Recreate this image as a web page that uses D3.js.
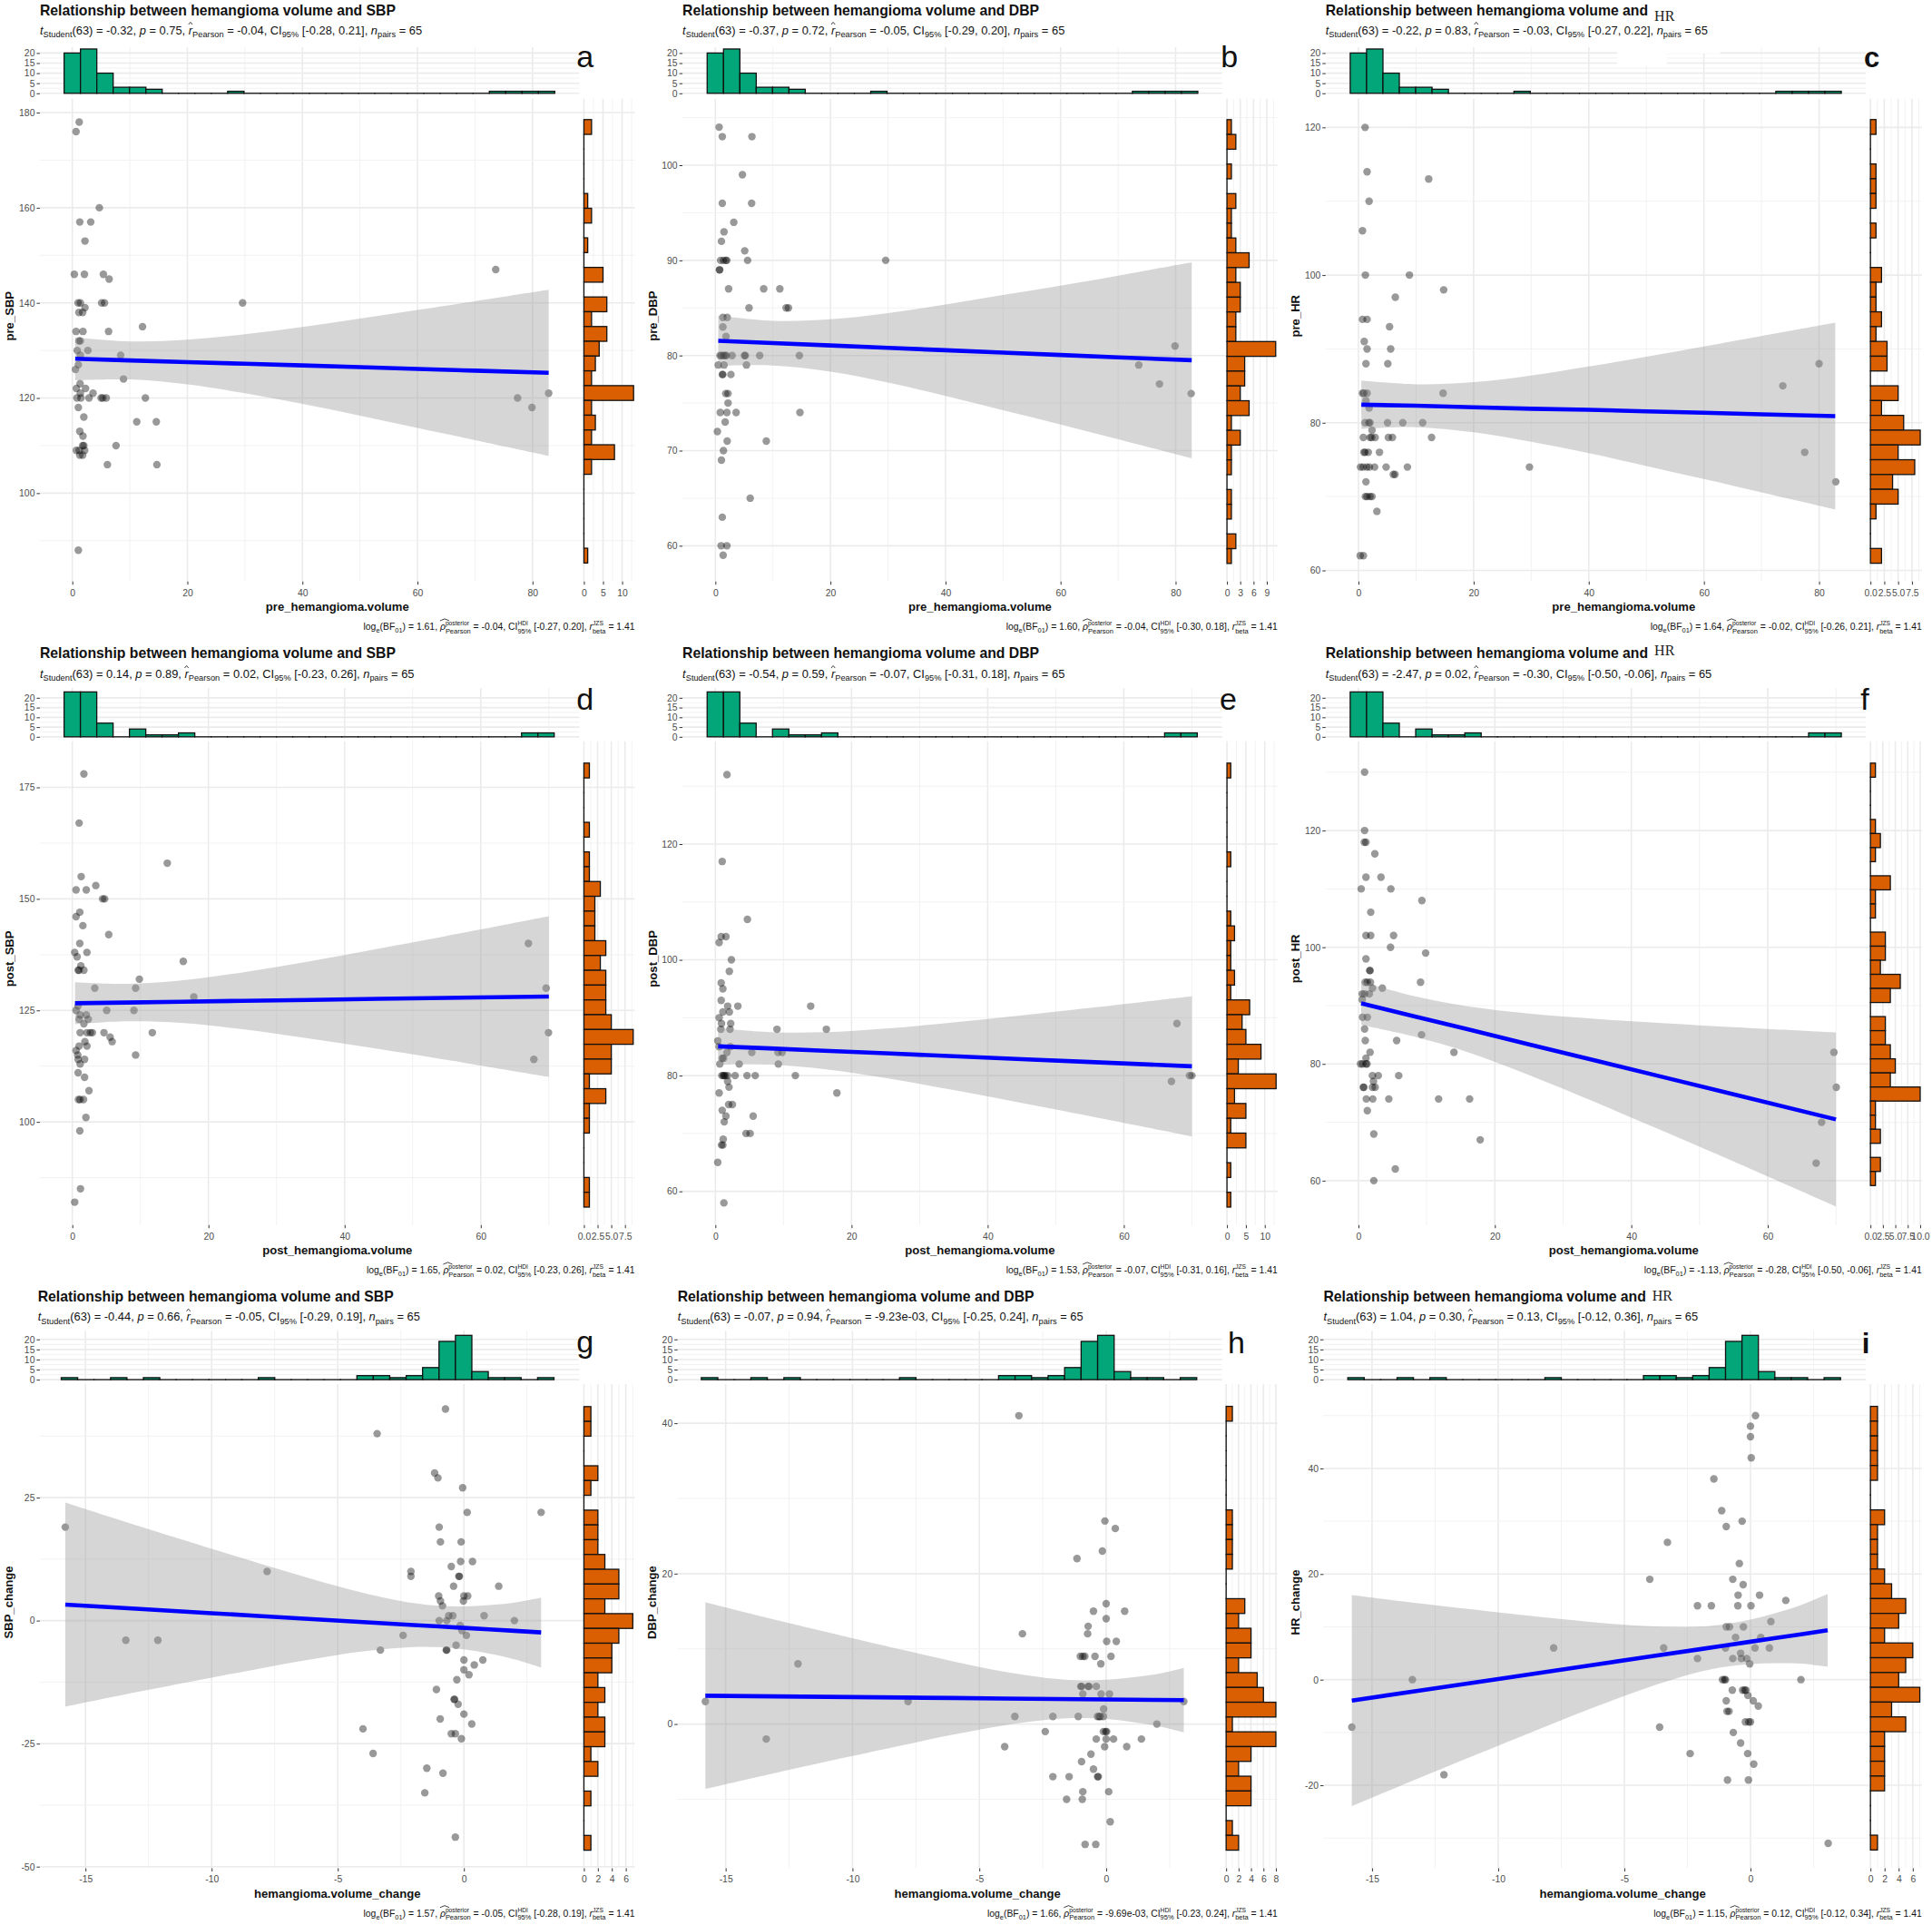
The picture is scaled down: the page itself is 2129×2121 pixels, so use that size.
<!DOCTYPE html>
<html>
<head>
<meta charset="utf-8">
<script src="https://cdn.jsdelivr.net/npm/d3@7"></script>
<style>
  html, body { margin: 0; padding: 0; background: #fff; }
  svg { display: block; font-family: "Liberation Sans", Arial, sans-serif; }
  .math text { white-space: pre; }
</style>
</head>
<body>
<svg id="chart" width="2129" height="2121"></svg>
<script>
// scatter values, [x, y]
const pointsA = [[1.2,178],[0.65,176],[4.7,160],[1.3,157],[3.2,157],[2.2,153],[0.35,146],[2.1,146],[5.4,146],[6.4,145],[73.6,147],[1,140],[1.4,140],[5.1,140],[5.6,140],[29.6,140],[2.2,139],[1.15,138],[1.8,138],[0.65,134],[1.85,134],[6.3,134],[12.2,135],[1.15,132],[1.4,132],[0.85,130],[2.7,130],[1.4,129],[8.4,129],[1.05,127],[0.55,126],[8.9,124],[1.35,123],[0.7,122],[2.3,122],[1.4,121],[3.6,121],[0.8,120],[1.5,120],[2.9,120],[5,120],[5.3,120],[5.9,120],[12.7,120],[77.4,120],[79.9,118],[82.8,121],[1.05,118],[2,116],[11.2,115],[14.6,115],[1.3,113],[1.85,112],[1.8,110],[2,110],[7.6,110],[0.7,109],[1.2,109],[2.15,109],[1.3,108],[1.8,108],[6.1,106],[14.7,106],[1.05,88]];
const pointsB = [[0.65,104],[1.2,103],[6.35,103],[4.7,99],[1.2,96],[6.3,96],[3.2,94],[1.5,93],[1.05,92],[5.1,91],[0.9,90],[1.4,90],[1.8,90],[2,90],[5.6,90],[29.6,90],[0.7,89],[0.75,89],[2.3,87],[8.4,87],[11.2,87],[5.85,85],[12.3,85],[12.7,85],[1.3,84],[2.05,84],[1.3,83],[1.85,82],[79.9,81],[0.8,80],[1.05,80],[1.4,80],[1.7,80],[1.9,80],[2.9,80],[5.05,80],[5.2,80],[7.7,80],[14.6,80],[0.5,79],[1.5,79],[5.4,79],[73.6,79],[1.2,78],[1.3,78],[2.7,78],[77.2,77],[1.8,76],[2.2,76],[82.7,76],[2.2,75],[0.85,74],[2,74],[3.6,74],[14.7,74],[1.7,73],[0.35,72],[2.05,71],[8.85,71],[1.4,70],[1.05,69],[6.05,65],[1.2,63],[1,60],[2,60],[1.35,59]];
const pointsC = [[1.15,120],[1.5,114],[12.2,113],[1.85,110],[0.7,106],[1.2,100],[8.85,100],[14.8,98],[6.4,97],[0.7,94],[1.5,94],[5.4,93],[1,91],[1.5,90],[5.6,90],[1.3,88],[5.1,88],[80,88],[73.7,85],[0.7,84],[0.95,84],[1.5,84],[14.7,84],[1.3,83],[1.85,82],[1.15,80],[1.8,80],[2,80],[5.05,80],[7.7,80],[11.15,80],[2.35,79],[0.85,78],[2,78],[2.3,78],[2.9,78],[5.2,78],[5.9,78],[12.7,78],[0.95,76],[1.15,76],[1.7,76],[3.65,76],[77.5,76],[0.35,74],[0.8,74],[1.45,74],[1.9,74],[2.8,74],[4.8,74],[8.5,74],[29.7,74],[6.05,73],[6.35,73],[1.3,72],[82.9,72],[1.2,70],[1.5,70],[2,70],[2.35,70],[3.2,68],[0.3,62],[0.85,62]];
const pointsD = [[1.7,178],[1,167],[13.95,158],[1.3,155],[3.45,153],[0.55,152],[2.05,152],[4.45,150],[4.75,150],[1.1,147],[0.55,146],[1.55,144],[5.35,142],[1.1,140],[67,140],[0.35,138],[2.15,138],[0.7,137],[16.3,136],[1.25,135],[0.85,134],[1,134],[1.7,134],[9.85,132],[3.3,130],[9.3,130],[69.6,130],[17.85,128],[0.85,126],[0.55,125],[5.05,125],[9.05,125],[1.15,124],[2.05,124],[1,123],[2.35,123],[1.7,122],[1.15,120],[2.15,120],[2.65,120],[2.95,120],[4.65,120],[11.75,120],[69.95,120],[5.55,119],[1.85,118],[5.85,118],[1,117],[2.15,117],[0.55,116],[0.8,115],[9.3,115],[0.85,114],[1.8,114],[67.8,114],[1.15,113],[0.85,111],[1.8,110],[2.45,107],[0.9,105],[1.15,105],[1.65,105],[2,101],[1.1,98],[1.2,85],[0.35,82]];
const pointsE = [[1.7,132],[1,117],[4.7,107],[0.85,104],[1.55,104],[0.55,103],[2.35,100],[2.05,98],[0.85,96],[1.1,95],[0.85,93],[1.8,92],[3.3,92],[14,92],[1.1,91],[2.05,91],[0.55,90],[0.9,89],[2.25,89],[67.8,89],[0.8,88],[2.15,88],[9.05,88],[16.3,88],[0.35,86],[0.55,85],[2.2,85],[1.7,84],[5.35,84],[9.2,84],[9.8,84],[1,83],[1.2,83],[0.65,82],[3.5,82],[9.25,82],[0.95,80],[1.15,80],[1.3,80],[1.45,80],[1.8,80],[2.9,80],[4.65,80],[5.85,80],[11.75,80],[69.65,80],[70,80],[1.8,79],[67,79],[2,78],[0.55,77],[17.85,77],[1.95,75],[2.5,75],[1,74],[1.55,73],[5.55,73],[1.3,72],[4.5,70],[5.1,70],[1.15,69],[0.9,68],[1.1,68],[0.35,65],[1.25,58]];
const pointsF = [[0.9,130],[0.9,120],[0.85,118],[1.1,118],[2.4,116],[1.1,112],[3.3,112],[0.4,110],[4.75,110],[9.3,108],[1.8,106],[1.1,102],[1.8,102],[5.15,102],[4.7,100],[9.85,99],[1.1,98],[1.65,96],[1.7,96],[1,94],[1.3,94],[1.75,94],[9.1,94],[2.05,93],[3.5,93],[0.55,92],[0.9,92],[1.6,92],[0.55,91],[0.6,88],[1.3,88],[0.9,86],[9.25,85],[1,84],[5.6,84],[1.7,82],[14,82],[69.7,82],[1.1,81],[0.3,80],[0.6,80],[1.1,80],[1.25,80],[2.05,78],[2.9,78],[5.9,78],[2.2,77],[0.7,76],[0.8,76],[2.05,76],[2.45,76],[70.05,76],[1.15,74],[2.1,74],[4.45,74],[11.75,74],[16.3,74],[1.3,72],[67.9,70],[2.25,68],[17.85,67],[67.1,63],[5.4,62],[2.25,60]];
const pointsG = [[-0.73,43],[-3.44,38],[-1.16,30],[-1.03,29],[-0.05,27],[0.13,22],[3.06,22],[-15.8,19],[-0.98,19],[-0.93,16],[-0.11,16],[-0.13,12],[0.34,12],[-0.5,11],[-7.8,10],[-2.1,10],[-2.1,9],[-0.2,9],[-0.18,9],[-0.41,7],[1.38,7],[-1,5],[0,5],[0.15,5],[-0.93,4],[-0.02,4],[-0.85,3],[-0.6,1],[-0.44,1],[0.8,1],[-0.98,0],[-0.68,0],[2,0],[-0.15,-1],[-0.08,-2],[-2.41,-3],[0.1,-3],[-13.4,-4],[-12.13,-4],[-0.31,-5],[-3.31,-6],[-0.7,-6],[-0.68,-6],[0,-8],[0.75,-8],[0.41,-9],[0,-10],[0.2,-11],[-0.28,-12],[-1.09,-14],[-0.39,-16],[-0.37,-16],[-0.23,-17],[0,-19],[-0.94,-20],[0.31,-21],[-4,-22],[-0.5,-23],[-0.34,-23],[-0.1,-24],[-3.6,-27],[-1.47,-30],[-0.83,-31],[-1.55,-35],[-0.34,-44]];
const pointsH = [[-3.44,41],[-0.05,27],[0.36,26],[-0.15,23],[-1.15,22],[0,16],[-0.5,15],[0.73,15],[0,14],[-0.71,13],[-0.73,12],[-3.3,12],[0.02,11],[0.4,11],[-1.02,9],[-0.92,9],[-0.84,9],[-0.44,9],[0.19,9],[-12.15,8],[-0.21,8],[-1,5],[-0.97,5],[-0.71,5],[-0.68,5],[-0.39,5],[-0.92,4],[-0.2,4],[0.13,4],[-15.8,3],[-7.81,3],[3.06,3],[-0.1,2],[-3.6,1],[-2.1,1],[-1.1,1],[-0.34,1],[-0.28,1],[-0.23,1],[-0.11,1],[2,0],[-2.4,-1],[-0.11,-1],[-0.02,-1],[0.02,-1],[-13.4,-2],[-0.39,-2],[0,-2],[0.29,-2],[1.39,-2],[-4,-3],[-0.06,-3],[0.81,-3],[-0.6,-4],[-0.97,-5],[-0.5,-6],[-2.1,-7],[-1.46,-7],[-0.34,-7],[-0.31,-7],[-0.92,-9],[0.1,-9],[-1.56,-10],[-0.94,-10],[0.16,-13],[-0.83,-16],[-0.41,-16]];
const pointsI = [[0.2,50],[0,48],[0,46],[0.03,42],[-1.45,38],[-1.14,32],[-0.33,30],[-0.96,29],[-3.29,26],[-0.44,22],[-3.99,19],[-0.7,19],[-0.29,18],[-0.49,16],[0.36,16],[1.4,15],[-2.1,14],[-1.55,14],[-0.5,14],[0.02,14],[0.81,11],[-0.96,10],[-0.83,10],[-0.28,10],[-0.59,8],[0.41,8],[-7.8,6],[-3.44,6],[-0.99,6],[0.18,6],[0.75,6],[-0.39,5],[-2.1,4],[-0.7,4],[-0.36,4],[-0.15,4],[-0.03,3],[-13.4,0],[-1.11,0],[-1.03,0],[-0.99,0],[2,0],[-0.72,-2],[-0.31,-2],[-0.23,-2],[-0.18,-2],[-0.1,-3],[-0.96,-4],[0.11,-4],[0.31,-5],[-0.93,-6],[-0.85,-6],[-0.2,-8],[-0.07,-8],[0,-8],[-15.8,-9],[-3.6,-9],[-0.68,-10],[-0.39,-12],[-2.39,-14],[-0.11,-14],[0.13,-16],[-12.15,-18],[-0.91,-19],[-0.08,-19],[3.08,-31]];

// top histograms, 30 bins each
const preVolumeCounts = [20,22,10,3,3,2,0,0,0,0,1,0,0,0,0,0,0,0,0,0,0,0,0,0,0,0,1,1,1,1];
const postVolumeCounts = [23,23,7,0,4,1,1,2,0,0,0,0,0,0,0,0,0,0,0,0,0,0,0,0,0,0,0,0,2,2];
const changeCounts = [1,0,0,1,0,1,0,0,0,0,0,0,1,0,0,0,0,0,2,2,1,2,6,19,22,4,1,1,0,1];
const preVolumeBins = [-1.43, 2.843];   // start, width
const postVolumeBins = [-1.21, 2.40];
const changeBins = [-15.96, 0.651];

// right histograms, counts from the top bin down
const sideCountsA = [2,0,0,0,0,1,2,0,1,0,5,0,6,2,6,4,3,2,13,2,3,2,8,2,0,0,0,0,0,1];
const sideCountsB = [1,2,0,1,0,2,1,1,2,5,2,3,3,2,2,11,4,4,3,5,1,3,1,1,0,1,1,0,2,1];
const sideCountsC = [1,0,0,1,1,1,0,1,0,0,2,1,1,2,1,3,3,0,5,2,6,9,5,8,4,5,1,0,0,2];
const sideCountsD = [1,0,0,0,1,0,1,1,3,2,2,2,4,3,4,4,4,5,9,5,5,1,4,1,1,0,0,0,1,1];
const sideCountsE = [1,0,0,0,0,0,1,0,0,0,1,2,1,1,2,1,6,4,5,9,3,13,2,5,1,5,0,1,0,1];
const sideCountsF = [1,0,0,0,1,2,1,0,4,1,1,0,3,3,2,6,4,0,3,3,4,5,4,10,1,1,2,0,2,1];
const sideCountsG = [1,1,0,0,2,1,0,2,2,2,3,5,5,3,7,5,4,4,2,3,2,3,3,1,2,0,1,0,0,1];
const sideCountsH = [1,0,0,0,0,0,0,1,1,1,1,0,0,3,2,4,4,2,5,6,8,1,8,4,2,4,4,0,1,2];
const sideCountsI = [1,1,1,1,1,0,0,2,1,1,1,2,3,5,4,2,6,5,4,7,3,5,2,2,2,2,0,0,0,1];
const sideBinsA = [178.53, 3.107];   // top edge, height
const sideBinsB = [104.79, 1.555];
const sideBinsC = [121.06, 2.003];
const sideBinsD = [180.44, 3.318];
const sideBinsE = [133.99, 2.557];
const sideBinsF = [131.55, 2.413];
const sideBinsG = [43.49, 3.005];
const sideBinsH = [42.24, 1.967];
const sideBinsI = [51.75, 2.80];

// fit line and 95% band, read at these x
const bandXPre = [0.5,10,20,30,40,50,60,70,82.8];
const bandXPost = [0.4,8,16,25,35,45,55,70];
const bandXChange = [-15.8,-13,-10,-8,-6,-4,-2,-1,0,1,2,3.06];
const lineA = [128.25,127.9,127.55,127.2,126.85,126.5,126.1,125.75,125.3];
const hiA = [132.75,131.9,132.25,133.4,134.95,136.7,138.5,140.35,142.75];
const loA = [123.75,123.9,122.85,121,118.75,116.3,113.7,111.15,107.85];
const lineB = [81.55,81.3,81.05,80.8,80.55,80.3,80.05,79.8,79.5];
const hiB = [84.2,83.65,83.8,84.45,85.35,86.35,87.35,88.4,89.8];
const loB = [78.9,78.95,78.3,77.15,75.75,74.25,72.75,71.2,69.2];
const lineC = [82.45,82.3,82.1,81.9,81.75,81.55,81.35,81.15,80.9];
const hiC = [85.72,85.2,85.49,86.39,87.62,88.95,90.33,91.74,93.55];
const loC = [79.18,79.4,78.71,77.41,75.88,74.15,72.37,70.56,68.25];
const lineD = [126.6,126.75,126.95,127.15,127.35,127.6,127.8,128.1];
const hiD = [131.31,130.95,131.71,133.52,136.05,138.85,141.7,146.1];
const loD = [121.89,122.55,122.19,120.78,118.65,116.35,113.9,110.1];
const lineE = [85.05,84.7,84.3,83.85,83.35,82.85,82.35,81.6];
const hiE = [88.22,87.52,87.49,88.13,89.19,90.41,91.69,93.7];
const loE = [81.88,81.88,81.11,79.57,77.51,75.29,73.01,69.5];
const lineF = [90.4,88.2,85.95,83.35,80.5,77.65,74.8,70.5];
const hiF = [94.1,91.67,89.88,88.62,87.7,86.96,86.3,85.4];
const loF = [86.7,84.73,82.02,78.08,73.3,68.34,63.3,55.6];
const lineG = [3.25,2.41,1.51,0.91,0.31,-0.29,-0.89,-1.19,-1.48,-1.78,-2.08,-2.4];
const hiG = [24,19.39,14.61,11.46,8.43,5.67,3.57,3.01,2.89,3.15,3.68,4.7];
const loG = [-17.5,-14.57,-11.59,-9.64,-7.81,-6.25,-5.35,-5.39,-5.85,-6.71,-7.84,-9.5];
const lineH = [3.77,3.68,3.58,3.52,3.46,3.39,3.33,3.3,3.27,3.24,3.2,3.17];
const hiH = [16.17,13.83,11.41,9.83,8.31,6.95,6,5.81,5.88,6.19,6.64,7.47];
const loH = [-8.63,-6.47,-4.25,-2.79,-1.39,-0.17,0.66,0.79,0.66,0.29,-0.24,-1.13];
const lineI = [-3.97,-1.99,0.12,1.53,2.95,4.36,5.77,6.47,7.18,7.88,8.59,9.34];
const hiI = [16.03,14.38,12.75,11.7,10.78,10.11,10.07,10.52,11.39,12.63,14.14,16.24];
const loI = [-23.97,-18.36,-12.51,-8.64,-4.88,-1.39,1.47,2.42,2.97,3.13,3.04,2.44];

// tick labels
const xTicksPre = [0,20,40,60,80];
const xMinorPre = [10,30,50,70];
const xTicksPost = [0,20,40,60];
const xMinorPost = [10,30,50,70];
const xTicksChange = [-15,-10,-5,0];
const xMinorChange = [-12.5,-7.5,-2.5,2.5];
const histTicks = [0,5,10,15,20];
const histMinor = [2.5,7.5,12.5,17.5];

// subtitle: t, p, r, CI. caption: BF, rho, CI
const subtitleStats = [
  ["-0.32","0.75","-0.04","[-0.28, 0.21]"], ["-0.37","0.72","-0.05","[-0.29, 0.20]"], ["-0.22","0.83","-0.03","[-0.27, 0.22]"],
  ["0.14","0.89","0.02","[-0.23, 0.26]"], ["-0.54","0.59","-0.07","[-0.31, 0.18]"], ["-2.47","0.02","-0.30","[-0.50, -0.06]"],
  ["-0.44","0.66","-0.05","[-0.29, 0.19]"], ["-0.07","0.94","-9.23e-03","[-0.25, 0.24]"], ["1.04","0.30","0.13","[-0.12, 0.36]"]
];
const captionStats = [
  ["1.61","-0.04","[-0.27, 0.20]"], ["1.60","-0.04","[-0.30, 0.18]"], ["1.64","-0.02","[-0.26, 0.21]"],
  ["1.65","0.02","[-0.23, 0.26]"], ["1.53","-0.07","[-0.31, 0.16]"], ["-1.13","-0.28","[-0.50, -0.06]"],
  ["1.57","-0.05","[-0.28, 0.19]"], ["1.66","-9.69e-03","[-0.23, 0.24]"], ["1.15","0.12","[-0.12, 0.34]"]
];

const greenFill = "#03a678", orangeFill = "#d95f02";
const Z = 1568 / 710; // layout below is measured on the 2.2x crops

const svg = d3.select("#chart");
svg.append("rect").attr("width", 2129).attr("height", 2121).attr("fill", "#fff");

const colX = [0, 710, 1420];
const rowY = [0, 700, 1411];
const rowLayout = [
  {title:37, sub:83, histTop:115, histBottom:232, hist0:227, hist20:129, top:240, bottom:1415, xTitle:1487, caption:1533, yTitle:769},
  {title:56, sub:103, histTop:128, histBottom:252, hist0:247, hist20:152, top:258, bottom:1435, xTitle:1507, caption:1553, yTitle:787},
  {title:50, sub:98, histTop:122, histBottom:246, hist0:241, hist20:143, top:252, bottom:1430, xTitle:1502, caption:1548, yTitle:783}
];

const panels = [
  {id:"a", col:0, row:0, pts:pointsA, side:sideCountsA, sideBins:sideBinsA, bx:bandXPre, line:lineA, hi:hiA, lo:loA, top:preVolumeCounts, topBins:preVolumeBins,
   xName:"pre_hemangioma.volume", yName:"pre_SBP", title:"SBP", xT:xTicksPre, xM:xMinorPre, yT:[100,120,140,160,180], yM:[90,110,130,150,170],
   xA:[0,80,176,1296], yA:[100,180,1200,274], left:97, right:1410, end:1545, count:[0,10,1421,1514], cT:[0,5,10], cM:[2.5,7.5,12.5], yTitleX:33, lx:1403, ly:163},
  {id:"b", col:1, row:0, pts:pointsB, side:sideCountsB, sideBins:sideBinsB, bx:bandXPre, line:lineB, hi:hiB, lo:loB, top:preVolumeCounts, topBins:preVolumeBins,
   xName:"pre_hemangioma.volume", yName:"pre_DBP", title:"DBP", xT:xTicksPre, xM:xMinorPre, yT:[60,70,80,90,100], yM:[65,75,85,95,105],
   xA:[0,80,173,1293], yA:[60,100,1328,402], left:93, right:1406, end:1541, count:[0,9,1418,1515], cT:[0,3,6,9], cM:[1.5,4.5,7.5,10.5], yTitleX:30, lx:1403, ly:163},
  {id:"c", col:2, row:0, pts:pointsC, side:sideCountsC, sideBins:sideBinsC, bx:bandXPre, line:lineC, hi:hiC, lo:loC, top:preVolumeCounts, topBins:preVolumeBins,
   xName:"pre_hemangioma.volume", yName:"pre_HR", title:"HR", hrDy:13, xT:xTicksPre, xM:xMinorPre, yT:[60,80,100,120], yM:[70,90,110],
   xA:[0,80,170,1291], yA:[60,120,1388,310], left:90, right:1405, end:1541, count:[0,7.5,1416,1517], cT:[0,2.5,5,7.5], cM:[1.25,3.75,6.25,8.75], yTitleX:27, lx:1400, ly:163, boldLetter:true},
  {id:"d", col:0, row:1, pts:pointsD, side:sideCountsD, sideBins:sideBinsD, bx:bandXPost, line:lineD, hi:hiD, lo:loD, top:postVolumeCounts, topBins:postVolumeBins,
   xName:"post_hemangioma.volume", yName:"post_SBP", title:"SBP", xT:xTicksPost, xM:xMinorPost, yT:[100,125,150,175], yM:[87.5,112.5,137.5,162.5],
   xA:[0,60,176,1170], yA:[100,175,1184,370], left:97, right:1410, end:1545, count:[0,7.5,1421,1521], cT:[0,2.5,5,7.5], cM:[1.25,3.75,6.25,8.75], yTitleX:33, lx:1403, ly:182},
  {id:"e", col:1, row:1, pts:pointsE, side:sideCountsE, sideBins:sideBinsE, bx:bandXPost, line:lineE, hi:hiE, lo:loE, top:postVolumeCounts, topBins:postVolumeBins,
   xName:"post_hemangioma.volume", yName:"post_DBP", title:"DBP", xT:xTicksPost, xM:xMinorPost, yT:[60,80,100,120], yM:[70,90,110,130],
   xA:[0,60,173,1167], yA:[60,120,1353,508], left:93, right:1406, end:1541, count:[0,10,1418,1510], cT:[0,5,10], cM:[2.5,7.5,12.5], yTitleX:30, lx:1400, ly:182},
  {id:"f", col:2, row:1, pts:pointsF, side:sideCountsF, sideBins:sideBinsF, bx:bandXPost, line:lineF, hi:hiF, lo:loF, top:postVolumeCounts, topBins:postVolumeBins,
   xName:"post_hemangioma.volume", yName:"post_HR", title:"HR", hrDy:-8, xT:xTicksPost, xM:xMinorPost, yT:[60,80,100,120], yM:[70,90,110,130],
   xA:[0,60,170,1166], yA:[60,120,1327,475], left:90, right:1405, end:1541, count:[0,10,1416,1537], cT:[0,2.5,5,7.5,10], cM:[1.25,3.75,6.25,8.75], yTitleX:27, lx:1392, ly:180},
  {id:"g", col:0, row:2, pts:pointsG, side:sideCountsG, sideBins:sideBinsG, bx:bandXChange, line:lineG, hi:hiG, lo:loG, top:changeCounts, topBins:changeBins,
   xName:"hemangioma.volume_change", yName:"SBP_change", title:"SBP", xT:xTicksChange, xM:xMinorChange, yT:[-50,-25,0,25], yM:[-37.5,-12.5,12.5,37.5],
   xA:[-15,0,208,1129], yA:[-50,25,1426,528], left:97, right:1410, end:1545, count:[0,6,1421,1523], cT:[0,2,4,6], cM:[1,3,5,7], yTitleX:31, lx:1403, ly:175, titleX:92},
  {id:"h", col:1, row:2, pts:pointsH, side:sideCountsH, sideBins:sideBinsH, bx:bandXChange, line:lineH, hi:hiH, lo:loH, top:changeCounts, topBins:changeBins,
   xName:"hemangioma.volume_change", yName:"DBP_change", title:"DBP", xT:xTicksChange, xM:xMinorChange, yT:[0,20,40], yM:[-10,10,30],
   xA:[-15,0,198,1124], yA:[0,40,1079,347], left:81, right:1406, end:1541, count:[0,8,1416,1537], cT:[0,2,4,6,8], cM:[1,3,5,7], yTitleX:28, lx:1420, ly:177},
  {id:"i", col:2, row:2, pts:pointsI, side:sideCountsI, sideBins:sideBinsI, bx:bandXChange, line:lineI, hi:hiI, lo:loI, top:changeCounts, topBins:changeBins,
   xName:"hemangioma.volume_change", yName:"HR_change", title:"HR", hrDy:-2, xT:xTicksChange, xM:xMinorChange, yT:[-20,0,20,40], yM:[-30,-10,10,30,50],
   xA:[-15,0,203,1124], yA:[-20,40,1228,457], left:85, right:1405, end:1541, count:[0,6,1416,1519], cT:[0,2,4,6], cM:[1,3,5,7], yTitleX:26, lx:1395, ly:177, boldLetter:true}
];

// left-to-right run of text with sub/superscripts, used for the stats lines
function mathLine(parent, x, y, parts, size, alignRight) {
  const g = parent.append("g").attr("class", "math");
  let cursor = 0;
  const put = (s, px, py, fs, italic) => {
    const t = g.append("text").attr("x", px).attr("y", py).attr("font-size", fs).attr("fill", "#111")
      .attr("font-style", italic ? "italic" : "normal").text(s);
    return t.node().getComputedTextLength();
  };
  parts.forEach(p => {
    const small = size * 0.72;
    if (p.sub !== undefined || p.sup !== undefined) {
      let w = 0;
      if (p.sub) w = Math.max(w, put(p.sub, cursor, p.sup ? size * 0.34 : size * 0.26, small));
      if (p.sup) w = Math.max(w, put(p.sup, cursor, -size * 0.5, small * 0.9));
      cursor += w;
    } else {
      const w = put(p.t, cursor, 0, size, p.i);
      if (p.hat) {
        const hw = p.wide ? w * 1.7 : w;
        const lift = p.wide ? 1.18 : 1.02;
        g.append("path")
          .attr("d", `M${cursor},${-size * (lift - 0.2)} L${cursor + hw / 2},${-size * lift} L${cursor + hw},${-size * (lift - 0.2)}`)
          .attr("fill", "none").attr("stroke", "#111").attr("stroke-width", 0.8);
      }
      cursor += w;
    }
  });
  g.attr("transform", `translate(${alignRight ? x - cursor : x},${y})`);
}

panels.forEach((d, idx) => {
  const ox = colX[d.col], oy = rowY[d.row], rl = rowLayout[d.row];
  const px = z => ox + z / Z, py = z => oy + z / Z;

  const x = d3.scaleLinear().domain([d.xA[0], d.xA[1]]).range([px(d.xA[2]), px(d.xA[3])]);
  const y = d3.scaleLinear().domain([d.yA[0], d.yA[1]]).range([py(d.yA[2]), py(d.yA[3])]);
  const histY = d3.scaleLinear().domain([0, 20]).range([py(rl.hist0), py(rl.hist20)]);
  const countX = d3.scaleLinear().domain([d.count[0], d.count[1]]).range([px(d.count[2]), px(d.count[3])]);

  const g = svg.append("g").attr("class", "panel-" + d.id);
  const L = px(d.left), R = px(d.right), E = px(d.end);
  const T = py(rl.top), B = py(rl.bottom), HT = py(rl.histTop), HB = py(rl.histBottom);

  // grid
  const grid = g.append("g").attr("fill", "none");
  const hLine = (yy, x0, x1, major) => grid.append("line").attr("x1", x0).attr("x2", x1).attr("y1", yy).attr("y2", yy)
    .attr("stroke", major ? "#ebebeb" : "#f1f1f1").attr("stroke-width", major ? 1.6 : 0.9);
  const vLine = (xx, y0, y1, major) => grid.append("line").attr("x1", xx).attr("x2", xx).attr("y1", y0).attr("y2", y1)
    .attr("stroke", major ? "#ebebeb" : "#f1f1f1").attr("stroke-width", major ? 1.6 : 0.9);

  d.xM.forEach(v => { vLine(x(v), T, B, false); vLine(x(v), HT, HB, false); });
  d.xT.forEach(v => { vLine(x(v), T, B, true); vLine(x(v), HT, HB, true); });
  d.yM.forEach(v => hLine(y(v), L, E, false));
  d.yT.forEach(v => hLine(y(v), L, E, true));
  histMinor.forEach(v => hLine(histY(v), L, R, false));
  histTicks.forEach(v => hLine(histY(v), L, R, true));
  d.cM.filter(v => countX(v) < E).forEach(v => vLine(countX(v), T, B, false));
  d.cT.forEach(v => vLine(countX(v), T, B, true));

  // panel c has a patch rubbed out of the top grid in the source figure
  if (d.id === "c") {
    g.append("rect").attr("x", px(800)).attr("y", py(112)).attr("width", 120 / Z).attr("height", 46 / Z).attr("fill", "#fff");
    g.append("rect").attr("x", px(920)).attr("y", py(112)).attr("width", 130 / Z).attr("height", 18 / Z).attr("fill", "#fff");
  }

  // scatter
  g.append("g").selectAll("circle").data(d.pts).join("circle")
    .attr("cx", p => x(p[0])).attr("cy", p => y(p[1])).attr("r", 4.2)
    .attr("fill", "#000").attr("fill-opacity", 0.4);

  // 95% band and fit
  const band = d.bx.map((v, i) => ({x: v, hi: d.hi[i], lo: d.lo[i], m: d.line[i]}));
  g.append("path").datum(band)
    .attr("d", d3.area().x(b => x(b.x)).y0(b => y(b.lo)).y1(b => y(b.hi)).curve(d3.curveCatmullRom))
    .attr("fill", "#999").attr("fill-opacity", 0.4);
  g.append("path").datum(band)
    .attr("d", d3.line().x(b => x(b.x)).y(b => y(b.m)))
    .attr("fill", "none").attr("stroke", "#0000ff").attr("stroke-width", 4.6);

  // top histogram; empty bins still leave a stroke along the baseline
  g.append("g").selectAll("rect").data(d.top).join("rect")
    .attr("x", (c, i) => x(d.topBins[0] + i * d.topBins[1]))
    .attr("width", x(d.topBins[1]) - x(0))
    .attr("y", c => histY(c)).attr("height", c => Math.max(histY(0) - histY(c), 0.01))
    .attr("fill", greenFill).attr("stroke", "#111").attr("stroke-width", 1.3);

  // right histogram
  g.append("g").selectAll("rect").data(d.side).join("rect")
    .attr("x", countX(0))
    .attr("width", c => Math.max(countX(c) - countX(0), 0.01))
    .attr("y", (c, i) => y(d.sideBins[0] - i * d.sideBins[1]))
    .attr("height", y(0) - y(d.sideBins[1]))
    .attr("fill", orangeFill).attr("stroke", "#111").attr("stroke-width", 1.3);

  // axes
  const styleAxis = sel => {
    sel.select(".domain").remove();
    sel.selectAll(".tick line").attr("stroke", "#333").attr("stroke-width", 1);
    sel.selectAll("text").attr("fill", "#4d4d4d").attr("font-size", 10.4).attr("font-family", "Liberation Sans");
  };
  const tickText = v => String(v);
  const oneDecimal = d.cT.some(v => v % 1 !== 0);

  g.append("g").attr("transform", `translate(0,${B})`)
    .call(d3.axisBottom(x).tickValues(d.xT).tickSize(3.5).tickPadding(5).tickFormat(tickText)).call(styleAxis);
  g.append("g").attr("transform", `translate(0,${B})`)
    .call(d3.axisBottom(countX).tickValues(d.cT).tickSize(3.5).tickPadding(5)
      .tickFormat(oneDecimal ? d3.format(".1f") : tickText)).call(styleAxis);
  g.append("g").attr("transform", `translate(${L},0)`)
    .call(d3.axisLeft(y).tickValues(d.yT).tickSize(3.5).tickPadding(2).tickFormat(tickText)).call(styleAxis);
  g.append("g").attr("transform", `translate(${L},0)`)
    .call(d3.axisLeft(histY).tickValues(histTicks).tickSize(3.5).tickPadding(2).tickFormat(tickText)).call(styleAxis);

  // axis titles
  g.append("text").attr("x", (L + E) / 2).attr("y", py(rl.xTitle)).attr("text-anchor", "middle")
    .attr("font-size", 13.1).attr("font-weight", "bold").attr("fill", "#111").text(d.xName);
  g.append("text").attr("transform", `translate(${px(d.yTitleX)},${py(rl.yTitle)}) rotate(-90)`).attr("text-anchor", "middle")
    .attr("font-size", 13.1).attr("font-weight", "bold").attr("fill", "#111").text(d.yName);

  // title; the HR panels have the label pasted in with a serif font
  const titleX = px(d.titleX || d.left);
  const head = g.append("text").attr("x", titleX).attr("y", py(rl.title))
    .attr("font-size", 15.75).attr("font-weight", "bold").attr("fill", "#111")
    .text("Relationship between hemangioma volume and" + (d.hrDy === undefined ? " " + d.title : ""));
  if (d.hrDy !== undefined) {
    g.append("text").attr("x", titleX + head.node().getComputedTextLength() + 7).attr("y", py(rl.title + d.hrDy))
      .attr("font-family", "Liberation Serif").attr("font-size", 16).attr("fill", "#222").text(d.title);
  }

  // stats lines
  const s = subtitleStats[idx], c = captionStats[idx];
  mathLine(g, titleX, py(rl.sub), [
    {t:"t", i:true}, {sub:"Student"}, {t:"(63) = " + s[0] + ", "}, {t:"p", i:true}, {t:" = " + s[1] + ", "},
    {t:"r", i:true, hat:true}, {sub:"Pearson"}, {t:" = " + s[2] + ", CI"}, {sub:"95%"}, {t:" " + s[3] + ", "},
    {t:"n", i:true}, {sub:"pairs"}, {t:" = 65"}
  ], 12.9, false);
  mathLine(g, E, py(rl.caption), [
    {t:"log"}, {sub:"e"}, {t:"(BF"}, {sub:"01"}, {t:") = " + c[0] + ", "},
    {t:"ρ", i:true, hat:true, wide:true}, {sub:"Pearson", sup:"posterior"}, {t:" = " + c[1] + ", CI"}, {sub:"95%", sup:"HDI"},
    {t:" " + c[2] + ", "}, {t:"r", i:true}, {sub:"beta", sup:"JZS"}, {t:" = 1.41"}
  ], 10.4, true);

  // panel letter
  g.append("text").attr("x", px(d.lx)).attr("y", py(d.ly)).attr("font-size", d.boldLetter ? 31 : 34)
    .attr("font-weight", d.boldLetter ? "bold" : "normal").attr("fill", "#111").text(d.id);
});
</script>
</body>
</html>
